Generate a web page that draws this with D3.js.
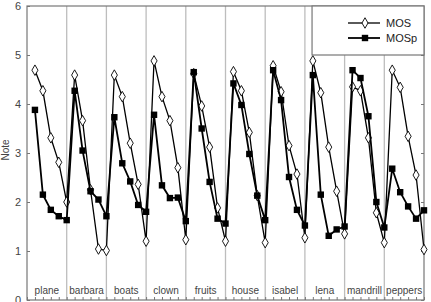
<!DOCTYPE html>
<html>
<head>
<meta charset="utf-8">
<script src="https://cdn.jsdelivr.net/npm/d3@7"></script>
<style>
body { margin: 0; background: #fff; }
svg { display: block; font-family: "Liberation Sans", Arial, sans-serif; }
</style>
</head>
<body>
<div class="chart"></div>
<script>
var width = 431,
    height = 302;
var margin = {left: 27, right: 7, top: 6, bottom: 2};

var images = ['plane', 'barbara', 'boats', 'clown', 'fruits', 'house', 'isabel', 'lena', 'mandrill', 'peppers'];
var yTicks = [0, 1, 2, 3, 4, 5, 6];
var seriesNames = ['MOS', 'MOSp'];

// 5 values per image, in the order of the images list
var mos = [
    4.69, 4.27, 3.31, 2.81, 2.00,
    4.59, 3.66, 2.25, 1.04, 1.01,
    4.59, 4.15, 3.20, 2.36, 1.20,
    4.88, 4.15, 3.66, 2.70, 1.23,
    4.62, 3.96, 3.12, 1.88, 1.20,
    4.66, 4.27, 3.42, 2.13, 1.17,
    4.78, 4.25, 3.15, 2.57, 1.27,
    4.88, 4.23, 3.12, 2.22, 1.35,
    4.35, 4.27, 3.31, 1.78, 1.17,
    4.69, 4.34, 3.34, 2.55, 1.03
];
var mosp = [
    3.88, 2.15, 1.84, 1.71, 1.63,
    4.27, 3.05, 2.22, 2.05, 1.71,
    3.73, 2.79, 2.42, 1.94, 1.80,
    3.78, 2.34, 2.08, 2.09, 1.61,
    4.65, 3.50, 2.41, 1.66, 1.56,
    4.42, 3.98, 2.98, 2.13, 1.63,
    4.69, 4.08, 2.51, 1.84, 1.52,
    4.59, 2.15, 1.31, 1.44, 1.50,
    4.69, 4.53, 3.75, 2.00, 1.48,
    2.68, 2.20, 1.91, 1.66, 1.83
];

var n = mos.length;
var x = d3.scaleLinear().domain([0, n]).range([margin.left, width - margin.right]);
var y = d3.scaleLinear().domain([0, 6]).range([300, margin.top]);

var svg = d3.select(".chart").append("svg")
    .attr("width", width)
    .attr("height", height);

// group separators
svg.selectAll(".sep")
    .data(d3.range(1, images.length))
    .enter().append("line")
    .attr("class", "sep")
    .attr("x1", function (d) { return x(d * 5); })
    .attr("x2", function (d) { return x(d * 5); })
    .attr("y1", y(6))
    .attr("y2", y(0))
    .attr("stroke", "#bdbdbd")
    .attr("stroke-width", 1.3);

// image names
svg.selectAll(".name")
    .data(images)
    .enter().append("text")
    .attr("x", function (d, i) { return x(i * 5 + 2.5); })
    .attr("y", 294)
    .attr("text-anchor", "middle")
    .attr("font-size", 10)
    .attr("fill", "#444")
    .text(function (d) { return d; });

// frame
svg.append("rect")
    .attr("x", x(0))
    .attr("y", y(6))
    .attr("width", x(n) - x(0))
    .attr("height", y(0) - y(6))
    .attr("fill", "none")
    .attr("stroke", "#777")
    .attr("stroke-width", 1.2);

// axes with inner ticks
var yAxis = d3.axisLeft(y).tickValues(yTicks).tickSize(-3).tickPadding(6).tickFormat(d3.format("d"));
var gy = svg.append("g").attr("transform", "translate(" + x(0) + ",0)").call(yAxis);
gy.select(".domain").remove();
gy.selectAll("line").attr("stroke", "#777");
gy.selectAll("text").attr("font-size", 11).attr("fill", "#444").attr("font-family", "Liberation Sans, Arial, sans-serif");

var yAxisR = d3.axisRight(y).tickValues(yTicks).tickSize(-3).tickFormat("");
var gyr = svg.append("g").attr("transform", "translate(" + x(n) + ",0)").call(yAxisR);
gyr.select(".domain").remove();
gyr.selectAll("line").attr("stroke", "#777");

var xAxis = d3.axisBottom(x).tickValues(d3.range(0, n + 1)).tickSize(-3).tickFormat("");
var gx = svg.append("g").attr("transform", "translate(0," + y(0) + ")").call(xAxis);
gx.select(".domain").remove();
gx.selectAll("line").attr("stroke", "#777");

// y title
svg.append("text")
    .attr("transform", "translate(9,150) rotate(-90)")
    .attr("text-anchor", "middle")
    .attr("font-size", 10)
    .attr("fill", "#444")
    .text("Note");

var line = d3.line()
    .x(function (d, i) { return x(i + 1); })
    .y(function (d) { return y(d); });

function diamond(sel, cx, cy) {
    sel.append("path")
        .attr("d", d3.symbol().type(d3.symbolDiamond).size(32))
        .attr("transform", "translate(" + cx + "," + cy + ")")
        .attr("fill", "#fff")
        .attr("stroke", "#000")
        .attr("stroke-width", 0.9);
}
function square(sel, cx, cy) {
    sel.append("rect")
        .attr("x", cx - 3.2)
        .attr("y", cy - 3.2)
        .attr("width", 6.4)
        .attr("height", 6.4)
        .attr("fill", "#000");
}

// MOS
svg.append("path")
    .datum(mos)
    .attr("d", line)
    .attr("fill", "none")
    .attr("stroke", "#000")
    .attr("stroke-width", 1.3);
var gm = svg.append("g");
mos.forEach(function (d, i) { diamond(gm, x(i + 1), y(d)); });

// MOSp
svg.append("path")
    .datum(mosp)
    .attr("d", line)
    .attr("fill", "none")
    .attr("stroke", "#000")
    .attr("stroke-width", 1.8);
var gp = svg.append("g");
mosp.forEach(function (d, i) { square(gp, x(i + 1), y(d)); });

// legend
var lg = svg.append("g");
lg.append("rect")
    .attr("x", x(35.9))
    .attr("y", y(6))
    .attr("width", x(n) - x(35.9))
    .attr("height", 49)
    .attr("fill", "#fff")
    .attr("stroke", "#777")
    .attr("stroke-width", 1.2);
seriesNames.forEach(function (name, i) {
    var ly = 23 + i * 15;
    lg.append("line")
        .attr("x1", 348).attr("x2", 380)
        .attr("y1", ly).attr("y2", ly)
        .attr("stroke", "#000")
        .attr("stroke-width", i == 0 ? 1.3 : 1.8);
    if (i == 0) diamond(lg, 365, ly); else square(lg, 365, ly);
    lg.append("text")
        .attr("x", 386)
        .attr("y", ly + 4)
        .attr("font-size", 11)
        .attr("fill", "#222")
        .text(name);
});
</script>
</body>
</html>
